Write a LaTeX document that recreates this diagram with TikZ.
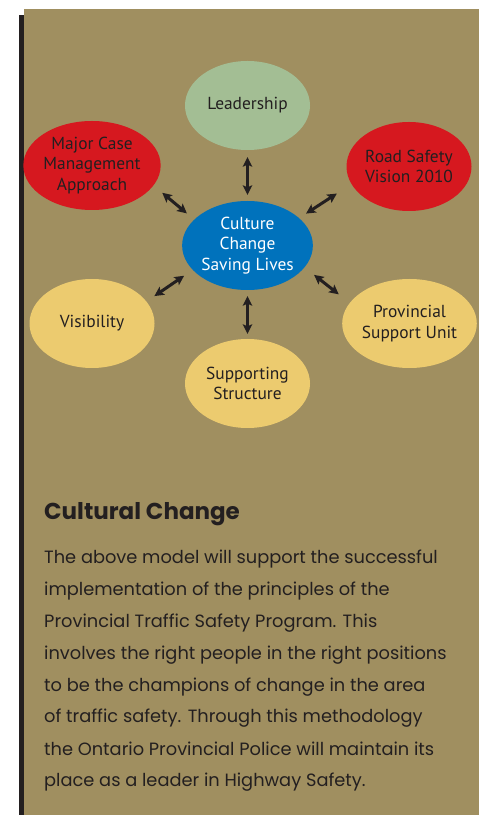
\documentclass[tikz,border=0pt]{standalone}
\usepackage{fontspec}
\setmainfont{PT Sans}
\newfontfamily\bodyfont{Poppins}
\usetikzlibrary{shapes.geometric,arrows.meta}
\definecolor{panel}{HTML}{A08F60}
\definecolor{ink}{HTML}{231F20}
\definecolor{sage}{HTML}{A3BE94}
\definecolor{alarm}{HTML}{D6181F}
\definecolor{core}{HTML}{0072BC}
\definecolor{sand}{HTML}{ECCB6F}
\begin{document}
\begin{tikzpicture}[x=1pt,y=1pt,
  bubble/.style={ellipse, minimum width=125pt, minimum height=89pt, inner sep=0pt,
    align=center, font=\fontsize{17.4}{20.7}\selectfont, text=ink},
  link/.style={line width=3pt, draw=ink,
    {Stealth[length=9.5pt,width=9.5pt,inset=2pt]}-{Stealth[length=9.5pt,width=9.5pt,inset=2pt]}},
  caption/.style={anchor=base west, inner sep=0pt, text=ink, align=left}
]
\useasboundingbox (0,0) rectangle (479,815);
% panel and its dark edge
\fill[panel] (24,0) rectangle (479,806);
\fill[ink] (19,0) rectangle (24,800);

% the model
\node[bubble, fill=sage]  (lead)  at (247.5,709.5) {Leadership};
\node[bubble, fill=alarm] (major) at (92,649.5)    {Major Case\\Management\\Approach};
\node[bubble, fill=alarm] (road)  at (409,648.5)   {Road Safety\\Vision 2010};
\node[bubble, fill=core, text=white] (hub) at (247.5,569.5) {Culture\\Change\\Saving Lives};
\node[bubble, fill=sand]  (vis)   at (92,491.5)    {Visibility};
\node[bubble, fill=sand]  (prov)  at (409.5,491.5) {Provincial\\Support Unit};
\node[bubble, fill=sand]  (supp)  at (247.5,431.5) {Supporting\\Structure};

\draw[link, shorten <=7pt, shorten >=6pt] (lead.south) -- (hub.north);
\draw[link, shorten <=6pt, shorten >=5pt] (hub.south) -- (supp.north);
\draw[link, shorten <=11.3pt, shorten >=9.5pt] (major.-18.6) -- (hub.154.5);
\draw[link, shorten <=17.3pt, shorten >=8.1pt] (road.-163.8) -- (hub.28.6);
\draw[link, shorten <=10.3pt, shorten >=9.5pt] (hub.204.3) -- (vis.22.4);
\draw[link, shorten <=12pt, shorten >=13.8pt] (hub.-21.3) -- (prov.161.1);

% text block (base anchor of the paragraph sits on its last line)
\node[caption, font=\bodyfont\bfseries\fontsize{23}{28}\selectfont] (head) at (44,295.7) {Cultural Change};
\node[caption, font=\bodyfont\fontsize{17.8}{32}\selectfont] (body) at (44,28)
{The above model will support the successful\\
implementation of the principles of the\\
Provincial Traffic Safety Program. This\\
involves the right people in the right positions\\
to be the champions of change in the area\\
of traffic safety. Through this methodology\\
the Ontario Provincial Police will maintain its\\
place as a leader in Highway Safety.};
\end{tikzpicture}
\end{document}
